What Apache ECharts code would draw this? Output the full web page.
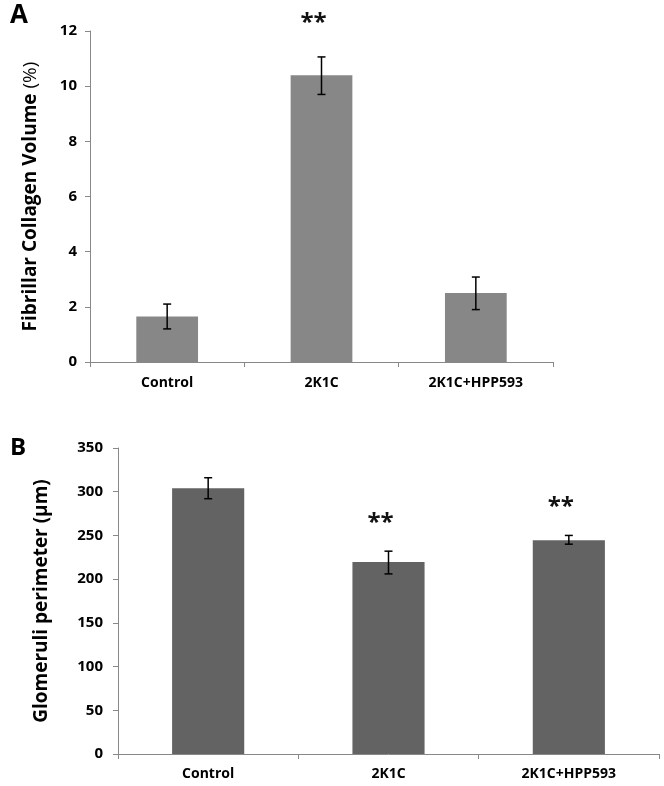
<!DOCTYPE html>
<html>
<head>
<meta charset="utf-8">
<script src="https://cdn.jsdelivr.net/npm/echarts@6/dist/echarts.min.js"></script>
<style>
  html, body { margin: 0; padding: 0; background: #fff; }
  #chart { width: 664px; height: 786px; }
</style>
</head>
<body>
<div id="chart"></div>
<script>
// categories shared by both panels
const categories = ['Control', '2K1C', '2K1C+HPP593']

// panel A: fibrillar collagen volume (%)
const collagenMean = [1.65, 10.4, 2.5]
const collagenLow = [1.2, 9.7, 1.9]
const collagenHigh = [2.1, 11.06, 3.08]
const collagenStars = ['', '**', '']

// panel B: glomeruli perimeter (µm)
const perimeterMean = [304, 219.5, 244.5]
const perimeterLow = [292, 206, 240]
const perimeterHigh = [316, 232, 250]
const perimeterStars = ['', '**', '**']

const font = '"Open Sans", "Noto Sans", sans-serif'
const axisColor = '#888888'

function errorRows(low, high, stars) {
  return categories.map((c, i) => [i, low[i], high[i], stars[i]])
}

function errorRender(starGap) {
  return function (params, api) {
    const lo = api.coord([api.value(0), api.value(1)])
    const hi = api.coord([api.value(0), api.value(2)])
    const cap = 4
    const style = { stroke: '#000', lineWidth: 1.5 }
    const children = [
      { type: 'line', shape: { x1: lo[0], y1: lo[1], x2: hi[0], y2: hi[1] }, style: style },
      { type: 'line', shape: { x1: lo[0] - cap, y1: lo[1], x2: lo[0] + cap, y2: lo[1] }, style: style },
      { type: 'line', shape: { x1: hi[0] - cap, y1: hi[1], x2: hi[0] + cap, y2: hi[1] }, style: style }
    ]
    const star = api.value(3)
    if (star) {
      children.push({
        type: 'text',
        style: {
          text: star, x: hi[0] - 8, y: hi[1] - starGap, align: 'center', verticalAlign: 'middle',
          font: 'bold 24px ' + font, fill: '#111'
        }
      })
    }
    return { type: 'group', children: children }
  }
}

function valueAxis(gridIndex, max, interval, name, gap, labelMargin) {
  return {
    gridIndex: gridIndex, type: 'value', min: 0, max: max, interval: interval,
    name: name, nameLocation: 'middle', nameGap: gap, nameRotate: 90,
    nameTextStyle: {
      fontFamily: font, fontSize: 19, fontWeight: 'bold', color: '#000',
      rich: {
        b: { fontFamily: font, fontSize: 19, fontWeight: 'bold', color: '#000' },
        n: { fontFamily: font, fontSize: 19, fontWeight: 'normal', color: '#000' }
      }
    },
    axisLine: { show: true, lineStyle: { color: axisColor, width: 1 } },
    axisTick: { show: true, length: 5, lineStyle: { color: axisColor } },
    axisLabel: { fontFamily: font, fontSize: 15, fontWeight: 'bold', color: '#000', margin: labelMargin },
    splitLine: { show: false }
  }
}

function categoryAxis(gridIndex, margin) {
  return {
    gridIndex: gridIndex, type: 'category', data: categories,
    axisLine: { lineStyle: { color: axisColor, width: 1 } },
    axisTick: { show: true, length: 5, lineStyle: { color: axisColor } },
    axisLabel: { fontFamily: font, fontSize: 14, fontWeight: 'bold', color: '#000', margin: margin }
  }
}

const chart = echarts.init(document.getElementById('chart'))
chart.setOption({
  animation: false,
  backgroundColor: '#fff',
  title: [
    { text: 'A', left: 5, top: -2, textStyle: { fontFamily: font, fontSize: 26, fontWeight: 'bold', color: '#000' } },
    { text: 'B', left: 5, top: 431, textStyle: { fontFamily: font, fontSize: 24, fontWeight: 'bold', color: '#000' } }
  ],
  grid: [
    { left: 90, top: 31, width: 463, height: 331 },
    { left: 118, top: 448, width: 541, height: 306 }
  ],
  xAxis: [categoryAxis(0, 14), categoryAxis(1, 13)],
  yAxis: [
    valueAxis(0, 12, 2, '{b|Fibrillar Collagen Volume }{n|(%)}', 50, 13),
    valueAxis(1, 350, 50, 'Glomeruli perimeter (µm)', 67, 15)
  ],
  series: [
    {
      type: 'bar', xAxisIndex: 0, yAxisIndex: 0, data: collagenMean, barWidth: '40%',
      itemStyle: { color: '#878787' }
    },
    {
      type: 'custom', xAxisIndex: 0, yAxisIndex: 0, data: errorRows(collagenLow, collagenHigh, collagenStars),
      renderItem: errorRender(34), z: 5
    },
    {
      type: 'bar', xAxisIndex: 1, yAxisIndex: 1, data: perimeterMean, barWidth: '40%',
      itemStyle: { color: '#636363' }
    },
    {
      type: 'custom', xAxisIndex: 1, yAxisIndex: 1, data: errorRows(perimeterLow, perimeterHigh, perimeterStars),
      renderItem: errorRender(28), z: 5
    }
  ]
})
</script>
</body>
</html>
